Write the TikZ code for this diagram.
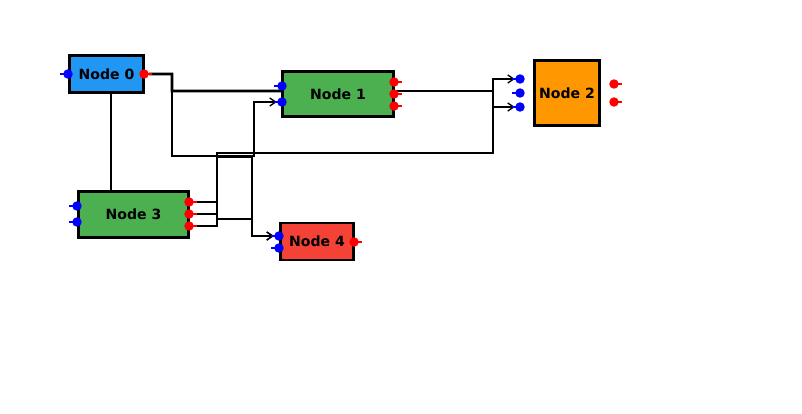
\documentclass[tikz,border=0pt]{standalone}
\usepackage{fontspec}
\setmainfont{DejaVu Sans}
\usetikzlibrary{arrows.meta,backgrounds}
\definecolor{nodeblue}{HTML}{2196F3}
\definecolor{nodegreen}{HTML}{4CAF50}
\definecolor{nodeorange}{HTML}{FF9800}
\definecolor{nodered}{HTML}{F44336}
\definecolor{portblue}{HTML}{0000FF}
\definecolor{portred}{HTML}{FF0000}

\begin{document}
\begin{tikzpicture}[
  x=0.02cm, y=-0.02cm,
  font=\fontsize{8}{9.5}\selectfont\bfseries,
  box/.style={
    draw, line width=1.6pt, inner sep=0pt, align=center
  },
  stub/.style={line width=1.6pt},
  inport/.style={circle, fill=portblue, inner sep=0pt, minimum size=5.4pt,
    append after command={(\tikzlastnode.center) edge[stub, portblue] ++(-4.8pt,0)}},
  outport/.style={circle, fill=portred, inner sep=0pt, minimum size=5.4pt,
    append after command={(\tikzlastnode.center) edge[stub, portred] ++(4.8pt,0)}},
  wire/.style={line width=1.45pt, black},
  flow/.style={wire, -{Straight Barb[length=3.4pt, width=4.6pt, line width=0.75pt]}},
]
\useasboundingbox (0,0) rectangle (802,413);

% ---- the blocks ---------------------------------------------------------
\node[box, fill=nodeblue, minimum width=42.5pt, minimum height=21.5pt]
  (n0) at (106.5, 74) {Node 0};
\node[box, fill=nodegreen, minimum width=63.5pt, minimum height=26pt]
  (n1) at (338, 94) {Node 1};
\node[box, fill=nodeorange, minimum width=37.4pt, minimum height=37.4pt]
  (n2) at (567, 93) {Node 2};
\node[box, fill=nodegreen, minimum width=63pt, minimum height=26.6pt]
  (n3) at (133.5, 214.5) {Node 3};
\node[box, fill=nodered, minimum width=42pt, minimum height=21pt]
  (n4) at (317, 241.5) {Node 4};

% ---- ports --------------------------------------------------------------
\node[inport]  (n0i0) at (68, 74) {};
\node[outport] (n0o0) at (144, 74) {};

\node[inport]  (n1i0) at (282, 86) {};
\node[inport]  (n1i1) at (282, 102) {};
\node[outport] (n1o0) at (394, 82) {};
\node[outport] (n1o1) at (394, 94) {};
\node[outport] (n1o2) at (394, 106) {};

\node[inport]  (n2i0) at (520, 79) {};
\node[inport]  (n2i1) at (520, 93) {};
\node[inport]  (n2i2) at (520, 107) {};
\node[outport] (n2o0) at (614, 84) {};
\node[outport] (n2o1) at (614, 102) {};

\node[inport]  (n3i0) at (77, 206) {};
\node[inport]  (n3i1) at (77, 222) {};
\node[outport] (n3o0) at (189, 202) {};
\node[outport] (n3o1) at (189, 214) {};
\node[outport] (n3o2) at (189, 226) {};

\node[inport]  (n4i0) at (279, 236) {};
\node[inport]  (n4i1) at (279, 248) {};
\node[outport] (n4o0) at (354, 242) {};

% ---- wires --------------------------------------------------------------
\coordinate (n0drop) at ([xshift=2.5pt]n0.south);
\begin{scope}[on background layer]
  \draw[wire] (n0drop) -- (n0drop |- n3.north);

  \draw[flow] (n0o0) -| (172, 156) -- (254, 156) -- (254, 153) -| (493, 79) -- (n2i0);
  \draw[wire] (n0o0) -| (172, 91) -- ([yshift=1.7pt]n1.west);

  \draw[flow] ([yshift=1.7pt]n1o1.center) -| (493, 107) -- (n2i2);

  \draw[flow] (n3o0) -| (217, 153) -- (254, 153) |- (n1i1);
  \draw[flow] (n3o1) -| (217, 219) -- (252, 219) |- (n4i0);
  \draw[flow] (n3o2) -| (217, 157) -- (252, 157) |- (n4i0);
\end{scope}

\end{tikzpicture}
\end{document}
